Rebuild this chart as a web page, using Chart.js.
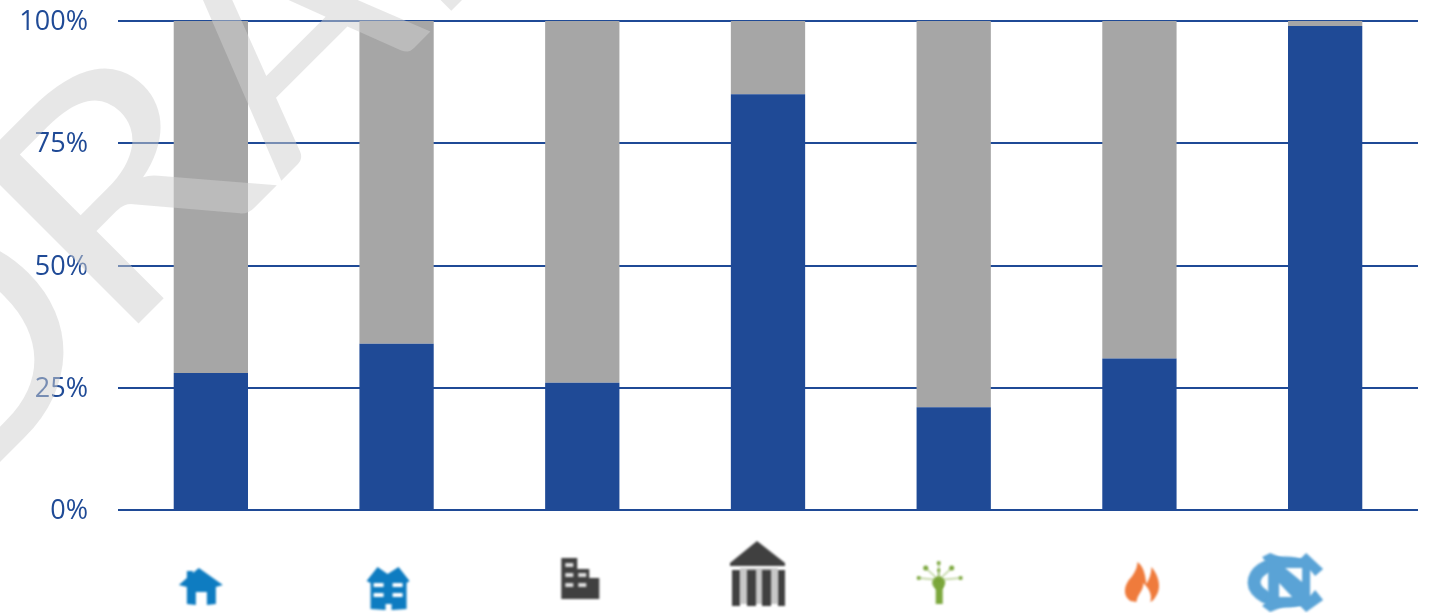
<!DOCTYPE html>
<html><head><meta charset="utf-8">
<script src="https://cdn.jsdelivr.net/npm/chart.js@4/dist/chart.umd.min.js"></script>
<style>html,body{margin:0;padding:0;background:#fff}canvas{display:block}</style>
</head><body><canvas id="c" width="1430" height="613"></canvas>
<script>
const categories = ['Single-family','Multi-family','Commercial','Institutional','Lighting','Gas','UNC'];
const blueValues = [28,34,26,85,21,31,99];
const grayValues = [72,66,74,15,79,69,1];
const tickLabels = {0:'0%',25:'25%',50:'50%',75:'75%',100:'100%'};
const watermarkLetters = ['D','R','A','F','T'];
const BLUE='#1F4A96', GRAY='#A6A6A6';

function poly(ctx,pts){ctx.beginPath();pts.forEach((p,i)=>i?ctx.lineTo(p[0],p[1]):ctx.moveTo(p[0],p[1]));ctx.closePath();ctx.fill();}
const icons = [
 (c,x)=>{x-=211;c.fillStyle='#0E7CC1';
   poly(c,[[x+199,568],[x+223,585],[x+216,587],[x+216,604],[x+207,605],[x+207,592],[x+196,592],[x+196,605],[x+187,604],[x+187,587],[x+179,585],[x+187,578],[x+187,571],[x+193,571],[x+193,573]]);},
 (c,x)=>{x-=396;c.fillStyle='#0E7CC1';
   poly(c,[[x+377,567],[x+387,574],[x+398,567],[x+409,581],[x+406,583],[x+406,609],[x+391,610],[x+391,604],[x+385,604],[x+385,610],[x+370,609],[x+370,583],[x+366,581]]);
   c.fillStyle='#fff';[[373,583],[392,583],[373,593],[392,593]].forEach(r=>c.fillRect(x+r[0],r[1],10,4));},
 (c,x)=>{x-=582;c.fillStyle='#404040';
   poly(c,[[x+561,558],[x+577,558],[x+577,569],[x+589,569],[x+589,578],[x+599,578],[x+599,599],[x+561,599]]);
   c.fillStyle='#ddd';[[569,565],[569,575],[569,585],[582,575],[582,585]].forEach(r=>c.fillRect(x+r[0]-4,r[1]-2,8,4));},
 (c,x)=>{x-=768;c.fillStyle='#404040';
   poly(c,[[x+757,541],[x+785,563],[x+785,566],[x+730,566],[x+730,563]]);
   c.fillStyle='#C8C8C8';c.fillRect(x+740,568,38,36);
   c.fillStyle='#404040';[[732,8],[747,9],[762,9],[778,7]].forEach(r=>c.fillRect(x+r[0],570,r[1],36));},
 (c,x)=>{x-=953;c.fillStyle='#7BA73C';c.strokeStyle='rgba(123,167,60,.55)';c.lineWidth=1.5;
   c.beginPath();c.arc(x+938,583,6.5,0,Math.PI*2);c.fill();c.fillRect(x+935,585,7,19);
   [[918,578,2],[960,578,2],[938,563,2],[925,568,2.5],[951,568,2.5],[938,570,1.5]].forEach(d=>{c.beginPath();c.arc(x+d[0],d[1],d[2],0,Math.PI*2);c.fill();
     c.beginPath();c.moveTo(x+938,580);c.lineTo(x+d[0],d[1]);c.stroke();});},
 (c,x)=>{x-=1139;c.fillStyle='#EF7B3C';c.beginPath();
   c.moveTo(x+1130,601);c.bezierCurveTo(x+1122,596,x+1123,585,x+1131,577);c.bezierCurveTo(x+1135,572,x+1137,566,x+1137,562);
   c.bezierCurveTo(x+1144,567,x+1145,577,x+1146,584);c.bezierCurveTo(x+1149,579,x+1151,573,x+1151,567);
   c.bezierCurveTo(x+1158,575,x+1162,588,x+1155,597);c.bezierCurveTo(x+1153,601,x+1150,602,x+1150,602);
   c.bezierCurveTo(x+1152,594,x+1148,588,x+1143,583);c.bezierCurveTo(x+1143,591,x+1137,594,x+1136,602);c.closePath();c.fill();},
 (c,x)=>{x-=1325;c.fillStyle='#5AA3D6';c.strokeStyle='#5AA3D6';
   c.lineWidth=13;c.beginPath();c.ellipse(x+1285,582,31,19,0,Math.PI*0.3,Math.PI*1.7);c.stroke();
   poly(c,[[x+1262,557],[x+1270,553],[x+1285,559],[x+1300,559],[x+1306,553],[x+1323,569],[x+1315,576],[x+1310,570],[x+1310,596],[x+1315,590],[x+1323,600],[x+1306,612],[x+1300,606],[x+1285,606],[x+1270,612],[x+1262,606],[x+1268,600],[x+1268,565]]);
   c.fillStyle='#fff';
   poly(c,[[x+1285,568],[x+1302,568],[x+1302,582]]);
   poly(c,[[x+1279,583],[x+1279,597],[x+1292,597]]);}
];
// watermark placement along its rotated baseline: ink start, ink width (0 = natural)
const markStart = [-251,0,206,443,640];
const markWidth = [216,202,216,0,0];
const decor = {id:'decor',afterDraw(ch){
  const c=ch.ctx,sx=ch.scales.x;
  c.save();c.filter='blur(0.8px)';
  icons.forEach((f,i)=>f(c,sx.getPixelForValue(i)));
  c.restore();
  c.save();
  c.translate(135,327);c.rotate(-Math.PI/4);
  c.font='318px Lato';c.textAlign='left';c.textBaseline='alphabetic';
  c.fillStyle='rgba(208,208,208,0.5)';
  watermarkLetters.forEach((l,i)=>{
    const m=c.measureText(l), ink=m.actualBoundingBoxRight+m.actualBoundingBoxLeft;
    const k=markWidth[i]?markWidth[i]/ink:1;
    c.save();c.translate(markStart[i],0);c.scale(k,1);
    c.fillText(l,m.actualBoundingBoxLeft,0);c.restore();
  });
  c.restore();
}};
new Chart(document.getElementById('c'),{
 type:'bar',
 data:{labels:categories,datasets:[
  {data:blueValues,backgroundColor:BLUE,stack:'s',barPercentage:0.4,categoryPercentage:1},
  {data:grayValues,backgroundColor:GRAY,stack:'s',barPercentage:0.4,categoryPercentage:1}]},
 plugins:[decor],
 options:{responsive:false,animation:false,devicePixelRatio:1,
  layout:{padding:{left:0,right:12,top:21,bottom:103}},
  plugins:{legend:{display:false},tooltip:{enabled:false}},
  scales:{
   x:{stacked:true,display:true,grid:{display:false},border:{display:false},ticks:{display:false},afterFit(a){a.height=0}},
   y:{stacked:true,min:0,max:100,afterFit(a){a.width=118;a.paddingTop=0;a.paddingBottom=0},
      ticks:{stepSize:25,padding:30,labelOffset:1.5,color:BLUE,font:{family:'"Open Sans"',size:27},callback:v=>tickLabels[v]},
      grid:{color:BLUE,lineWidth:2,drawTicks:false},border:{display:false}}
  }}
});
</script></body></html>
